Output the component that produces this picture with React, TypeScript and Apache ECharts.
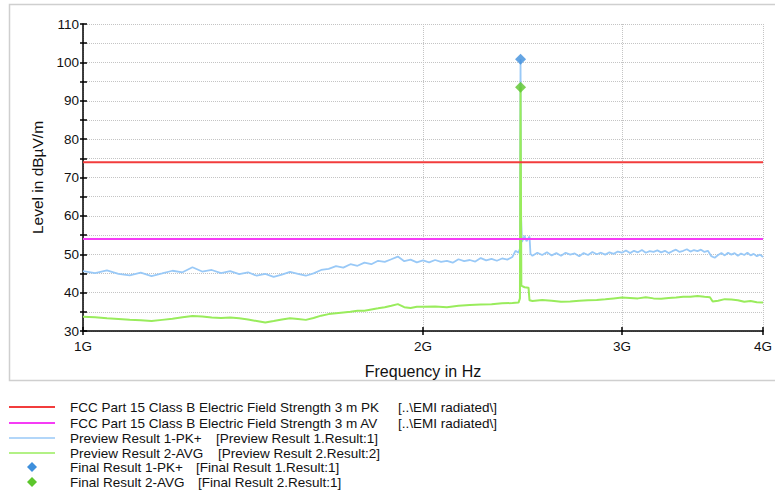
import React, { useEffect, useRef } from "react";
import * as echarts from "echarts";

// Frequencies in MHz
const xTickValues = [1000, 2000, 3000, 4000];
const yMin = 30;
const yMax = 110;
const yStep = 10;

const limitPK = 74;
const limitAV = 54;

const previewPKFreq = [
  1000, 1025, 1050, 1075, 1100, 1125, 1150, 1175, 1200, 1225, 1250, 1275, 1300, 1325, 1350, 1375, 1400, 1425, 1450, 1475,
  1500, 1525, 1550, 1575, 1600, 1625, 1650, 1675, 1700, 1725, 1750, 1775, 1800, 1825, 1850, 1875, 1900, 1925, 1950, 1975,
  2000, 2025, 2050, 2075, 2100, 2125, 2150, 2175, 2200, 2225, 2250, 2275, 2300, 2325, 2350, 2375, 2400, 2415, 2430, 2437,
  2440, 2443, 2447, 2460, 2470, 2485, 2490, 2500, 2525, 2550, 2575, 2600, 2625, 2650, 2675, 2700, 2725, 2750, 2775, 2800,
  2825, 2850, 2875, 2900, 2925, 2950, 2975, 3000, 3025, 3050, 3075, 3100, 3125, 3150, 3175, 3200, 3225, 3250, 3275, 3300,
  3325, 3350, 3375, 3400, 3425, 3450, 3475, 3500, 3525, 3550, 3575, 3600, 3625, 3650, 3675, 3700, 3725, 3750, 3775, 3800,
  3825, 3850, 3875, 3900, 3925, 3950, 3975, 4000,
];
const previewPK = [
  45.6, 45.1, 45.8, 44.9, 44.5, 45.2, 44.3, 45.0, 45.7, 45.3, 46.6, 45.5, 45.9, 45.1, 45.6, 44.8, 45.3, 44.4, 44.9, 44.1,
  44.7, 45.4, 44.9, 44.4, 45.0, 45.9, 46.2, 46.9, 46.5, 47.4, 47.0, 47.8, 47.4, 48.3, 48.0, 48.7, 49.4, 48.2, 48.6, 47.9,
  48.4, 47.9, 48.5, 48.0, 48.3, 47.8, 48.7, 48.2, 48.5, 48.1, 49.0, 48.4, 48.8, 48.3, 48.9, 48.6, 49.3, 50.9, 50.4, 51.5,
  100.8, 59.0, 53.2, 54.8, 53.4, 54.6, 50.1, 49.6, 50.4, 49.8, 50.5, 49.7, 50.3, 49.6, 50.4, 49.9, 50.2, 49.5, 50.3, 49.8,
  50.6, 50.0, 50.4, 49.9, 50.5, 50.1, 50.7, 50.4, 51.0, 50.3, 50.9, 50.5, 51.1, 50.4, 50.8, 50.6, 51.0, 50.5, 50.9, 50.3,
  50.8, 51.2, 50.6, 50.9, 51.3, 50.7, 51.1, 50.8, 51.2, 50.6, 50.9, 49.5, 49.1, 49.8, 50.3, 49.7, 50.4, 49.9, 50.3, 49.6,
  50.2, 49.8, 50.4, 49.7, 50.1, 49.5, 49.9, 49.3,
];

const previewAVGFreq = [
  1000, 1025, 1050, 1075, 1100, 1125, 1150, 1175, 1200, 1225, 1250, 1275, 1300, 1325, 1350, 1375, 1400, 1425, 1450, 1475,
  1500, 1525, 1550, 1575, 1600, 1625, 1650, 1675, 1700, 1725, 1750, 1775, 1800, 1825, 1850, 1875, 1900, 1925, 1950, 1975,
  2000, 2050, 2100, 2150, 2200, 2250, 2300, 2350, 2400, 2430, 2437, 2440, 2444, 2460, 2480, 2485, 2500, 2550, 2600, 2650,
  2700, 2750, 2800, 2850, 2900, 2950, 3000, 3050, 3100, 3150, 3200, 3250, 3300, 3350, 3400, 3450, 3500, 3550, 3590, 3610,
  3650, 3700, 3750, 3800, 3850, 3900, 3950, 4000,
];
const previewAVG = [
  33.7, 33.6, 33.3, 33.1, 32.9, 32.8, 32.6, 32.9, 33.2, 33.6, 33.9, 33.8, 33.5, 33.4, 33.5, 33.3, 33.0, 32.6, 32.2, 32.6,
  33.0, 33.3, 33.1, 32.9, 33.4, 34.0, 34.4, 34.6, 34.8, 35.0, 35.3, 35.3, 35.6, 35.9, 36.2, 36.6, 37.0, 36.2, 36.0, 36.3,
  36.3, 36.4, 36.2, 36.6, 36.8, 36.9, 37.0, 37.2, 37.3, 37.4, 38.5, 93.5, 41.8, 41.4, 41.3, 38.0, 37.8, 38.1, 37.9, 37.6,
  37.7, 37.9, 38.0, 38.1, 38.3, 38.5, 38.7, 38.6, 38.5, 38.8, 38.5, 38.4, 38.6, 38.7, 38.9, 38.9, 39.1, 38.9, 38.8, 37.7,
  37.9, 38.3, 38.2, 38.0, 37.6, 37.8, 37.5, 37.4,
];

const finalFreq = [2440];
const finalPK = [100.8];
const finalAVG = [93.5];

const legendNames = [
  "FCC Part 15 Class B Electric Field Strength 3 m PK",
  "FCC Part 15 Class B Electric Field Strength 3 m AV",
  "Preview Result 1-PK+",
  "Preview Result 2-AVG",
  "Final Result 1-PK+",
  "Final Result 2-AVG",
];
const legendRefs = [
  "[..\\EMI radiated\\]",
  "[..\\EMI radiated\\]",
  "[Preview Result 1.Result:1]",
  "[Preview Result 2.Result:2]",
  "[Final Result 1.Result:1]",
  "[Final Result 2.Result:1]",
];

const COLORS = {
  pk: "#f23c3c",
  av: "#f53cf5",
  prevPK: "#99c9f7",
  prevAVG: "#99ec5c",
  finPK: "#3e8fdc",
  finAVG: "#5cc62c",
};

const FONT = "'Liberation Sans', Arial, sans-serif";

export default function App() {
  const ref = useRef<HTMLDivElement>(null);

  useEffect(() => {
    if (!ref.current) return;
    const chart = echarts.init(ref.current, undefined, { renderer: "svg" });

    const zip = (xs: number[], ys: number[]) => xs.map((x, i) => [x, ys[i]]);
    const gridLine = { show: true, lineStyle: { color: "#c4c4c4", type: "dotted", width: 1 } };

    const legendColors = [COLORS.pk, COLORS.av, COLORS.prevPK, COLORS.prevAVG, COLORS.finPK, COLORS.finAVG];
    const rowY = [407, 423, 438, 453, 467, 482];
    const refX = [398, 398, 216, 218, 196, 198];
    const legendGraphics: any[] = [];
    legendNames.forEach((name, i) => {
      if (i < 4) {
        legendGraphics.push({
          type: "line",
          shape: { x1: 9, y1: rowY[i], x2: 55, y2: rowY[i] },
          style: { stroke: legendColors[i], lineWidth: i < 2 ? 2 : 1.5 },
        });
      } else {
        legendGraphics.push({
          type: "polygon",
          shape: { points: [[32, rowY[i] - 5], [37, rowY[i]], [32, rowY[i] + 5], [27, rowY[i]]] },
          style: { fill: legendColors[i] },
        });
      }
      legendGraphics.push({
        type: "text",
        x: 70,
        y: rowY[i],
        style: { text: name, font: `13.5px ${FONT}`, fill: "#111", verticalAlign: "middle" },
      });
      legendGraphics.push({
        type: "text",
        x: refX[i],
        y: rowY[i],
        style: { text: legendRefs[i], font: `13.5px ${FONT}`, fill: "#111", verticalAlign: "middle" },
      });
    });

    const xBase = {
      type: "log",
      logBase: 10,
      min: 1000,
      max: 4000,
    };
    const yBase = {
      type: "value",
      min: yMin,
      max: yMax,
      interval: yStep,
    };

    chart.setOption({
      animation: false,
      backgroundColor: "#ffffff",
      grid: { left: 83, right: 10, top: 24, bottom: 161, containLabel: false },
      graphic: [
        {
          type: "rect",
          shape: { x: 9.5, y: 4.5, width: 770, height: 376 },
          style: { fill: "none", stroke: "#cfcfcf", lineWidth: 1.5 },
          silent: true,
        },
        ...legendGraphics,
      ],
      xAxis: [
        {
          ...xBase,
          name: "Frequency in Hz",
          nameLocation: "middle",
          nameGap: 32,
          nameTextStyle: { fontSize: 16, color: "#111", fontFamily: FONT },
          axisLine: { show: true, lineStyle: { color: "#000", width: 1.5 } },
          axisTick: { show: true, length: 4, customValues: xTickValues, lineStyle: { color: "#000", width: 1.5 } },
          axisLabel: {
            customValues: xTickValues,
            formatter: (v: number) => `${Math.round(v / 1000)}G`,
            fontSize: 13.5,
            color: "#111",
            fontFamily: FONT,
            margin: 8,
          },
          splitLine: gridLine,
          minorTick: { show: false },
          minorSplitLine: { show: false },
        },
        {
          ...xBase,
          position: "bottom",
          axisLine: { show: false },
          axisTick: { show: true, inside: true, length: 4, customValues: xTickValues, lineStyle: { color: "#000", width: 1.5 } },
          axisLabel: { show: false, customValues: xTickValues },
          splitLine: { show: false },
        },
      ],
      yAxis: [
        {
          ...yBase,
          name: "Level in dBµV/m",
          nameLocation: "middle",
          nameGap: 37,
          nameTextStyle: { fontSize: 15.5, color: "#111", fontFamily: FONT },
          axisLine: { show: true, lineStyle: { color: "#000", width: 1.5 } },
          axisTick: { show: true, length: 3, lineStyle: { color: "#000", width: 1.5 } },
          minorTick: { show: true, splitNumber: 2, length: 3, lineStyle: { color: "#000", width: 1.5 } },
          axisLabel: { fontSize: 13.5, color: "#111", fontFamily: FONT, margin: 4 },
          splitLine: gridLine,
          minorSplitLine: gridLine,
        },
        {
          ...yBase,
          position: "left",
          axisLine: { show: false },
          axisTick: { show: true, inside: true, length: 4, lineStyle: { color: "#000", width: 1.5 } },
          minorTick: { show: true, splitNumber: 2, length: 4, lineStyle: { color: "#000", width: 1.5 } },
          axisLabel: { show: false },
          splitLine: { show: false },
          minorSplitLine: { show: false },
        },
      ],
      series: [
        {
          name: legendNames[2],
          type: "line",
          data: zip(previewPKFreq, previewPK),
          symbol: "none",
          lineStyle: { color: COLORS.prevPK, width: 1.8 },
          z: 2,
        },
        {
          name: legendNames[3],
          type: "line",
          data: zip(previewAVGFreq, previewAVG),
          symbol: "none",
          lineStyle: { color: COLORS.prevAVG, width: 2 },
          z: 3,
        },
        {
          name: legendNames[0],
          type: "line",
          data: [[1000, limitPK], [4000, limitPK]],
          symbol: "none",
          lineStyle: { color: COLORS.pk, width: 2 },
          z: 4,
        },
        {
          name: legendNames[1],
          type: "line",
          data: [[1000, limitAV], [4000, limitAV]],
          symbol: "none",
          lineStyle: { color: COLORS.av, width: 2 },
          z: 4,
        },
        {
          name: legendNames[4],
          type: "scatter",
          data: zip(finalFreq, finalPK),
          symbol: "diamond",
          symbolSize: 11,
          itemStyle: { color: COLORS.finPK },
          z: 5,
        },
        {
          name: legendNames[5],
          type: "scatter",
          data: zip(finalFreq, finalAVG),
          symbol: "diamond",
          symbolSize: 11,
          itemStyle: { color: COLORS.finAVG },
          z: 5,
        },
      ],
    });

    return () => {
      chart.dispose();
    };
  }, []);

  return (
    <div
      ref={ref}
      style={{ position: "absolute", left: 0, top: 0, width: 775, height: 492, background: "#fff" }}
    />
  );
}
